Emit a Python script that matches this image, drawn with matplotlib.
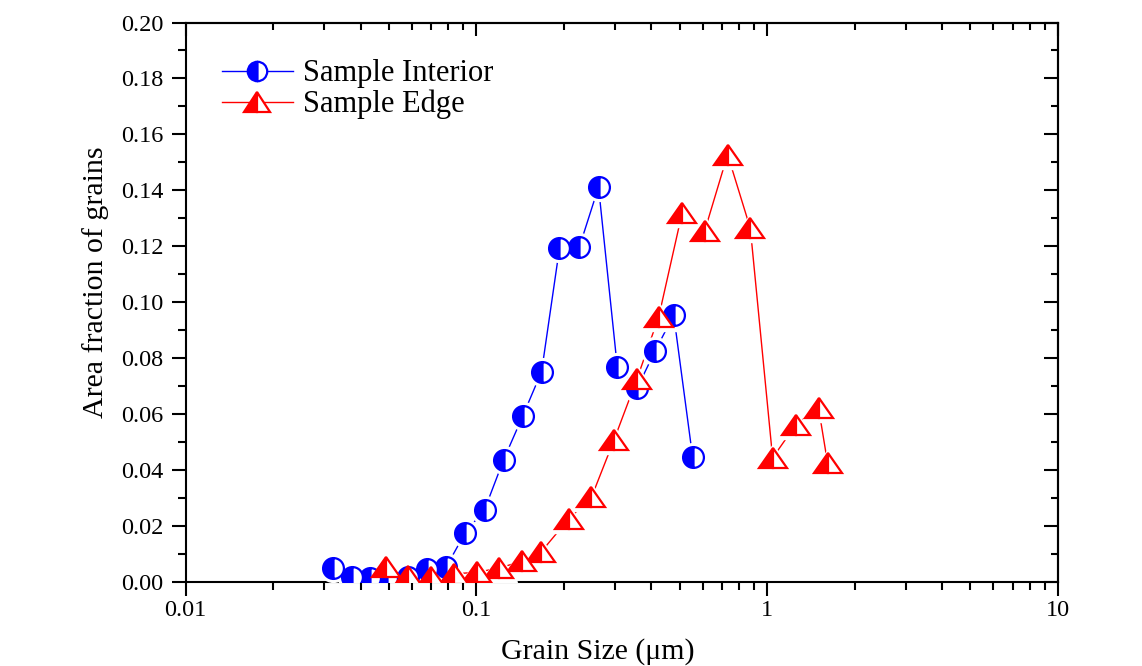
import matplotlib
matplotlib.use("Agg")
import matplotlib.pyplot as plt
from matplotlib.markers import MarkerStyle
from matplotlib.transforms import Affine2D
from matplotlib.ticker import FixedLocator, LogLocator, NullFormatter, FixedFormatter

# ---- data ----
interior_x = [0.0321, 0.0372, 0.0430, 0.0493, 0.0582, 0.0678, 0.0788, 0.0916, 0.1067,
              0.124, 0.1441, 0.1675, 0.193, 0.226, 0.263, 0.305, 0.357, 0.412, 0.477, 0.554]
interior_y = [0.0049, 0.0019, 0.0015, 0.0013, 0.0019, 0.0045, 0.0055, 0.0177, 0.0259,
              0.0437, 0.0592, 0.0752, 0.1193, 0.1198, 0.1412, 0.0770, 0.0693, 0.0827, 0.0954, 0.0447]

edge_x = [0.0488, 0.0583, 0.0700, 0.0835, 0.1004, 0.120, 0.1438, 0.167, 0.2074, 0.2487,
          0.2968, 0.356, 0.4236, 0.5096, 0.6095, 0.731, 0.875, 1.044, 1.256, 1.502, 1.613]
edge_y = [0.0055, 0.0021, 0.0018, 0.0029, 0.0035, 0.0050, 0.0075, 0.0108, 0.0225, 0.0303,
          0.0506, 0.0724, 0.0948, 0.1319, 0.1255, 0.1528, 0.1264, 0.0444, 0.0563, 0.0622, 0.0426]

x_ticks = [0.01, 0.1, 1, 10]
x_tick_labels = ["0.01", "0.1", "1", "10"]
y_ticks = [0.00, 0.02, 0.04, 0.06, 0.08, 0.10, 0.12, 0.14, 0.16, 0.18, 0.20]
y_tick_labels = ["%.2f" % v for v in y_ticks]

plt.rcParams['font.family'] = ['Liberation Serif', 'DejaVu Serif']

fig = plt.figure(figsize=(11.42, 6.66), dpi=100)
ax = fig.add_axes([0.1626, 0.1261, 0.9264 - 0.1626, 0.9662 - 0.1261])

blue = '#0000FF'
red = '#FF0000'

circ = MarkerStyle('o', fillstyle='left')
tri = MarkerStyle('^', fillstyle='left', transform=Affine2D().scale(1.3, 1.0))
tri_bg = MarkerStyle('^', transform=Affine2D().scale(1.3, 1.0))

# lines
ax.plot(interior_x, interior_y, '-', color=blue, lw=1.0, zorder=2)
ax.plot(edge_x, edge_y, '-', color=red, lw=1.0, zorder=2)
# white halos to create gaps near markers
ax.plot(interior_x, interior_y, linestyle='none', marker='o', ms=20, mfc='white', mec='white', zorder=3)
ax.plot(edge_x, edge_y, linestyle='none', marker=tri_bg, ms=20, mfc='white', mec='white', zorder=3)
# markers
ax.plot(interior_x, interior_y, linestyle='none', marker=circ, ms=15, mfc=blue,
        mfcalt='white', mec=blue, mew=1.6, zorder=4)
ax.plot(edge_x, edge_y, linestyle='none', marker=tri, ms=15, mfc=red,
        mfcalt='white', mec=red, mew=1.6, zorder=4)

# legend handles
h1, = ax.plot([], [], '-', color=blue, lw=1.0, marker=circ, ms=14, mfc=blue,
              mfcalt='white', mec=blue, mew=1.6)
h2, = ax.plot([], [], '-', color=red, lw=1.0, marker=tri, ms=14, mfc=red,
              mfcalt='white', mec=red, mew=1.6)
ax.legend([h1, h2], ["Sample Interior", "Sample Edge"], loc='upper left',
          bbox_to_anchor=(0.028, 0.956), frameon=False, fontsize=22,
          handlelength=2.3, handletextpad=0.33, labelspacing=0.05, borderaxespad=0)

ax.set_xscale('log')
ax.set_xlim(0.01, 10)
ax.set_ylim(0, 0.20)

ax.xaxis.set_major_locator(FixedLocator(x_ticks))
ax.xaxis.set_major_formatter(FixedFormatter(x_tick_labels))
ax.xaxis.set_minor_locator(LogLocator(base=10, subs=range(2, 10)))
ax.xaxis.set_minor_formatter(NullFormatter())
ax.yaxis.set_major_locator(FixedLocator(y_ticks))
ax.yaxis.set_major_formatter(FixedFormatter(y_tick_labels))
ax.yaxis.set_minor_locator(FixedLocator([0.01 + 0.02 * i for i in range(10)]))

ax.tick_params(which='major', direction='out', length=10, width=1.5, labelsize=17.5, pad=6)
ax.tick_params(which='minor', direction='out', length=5.5, width=1.5)
ax.tick_params(axis='x', pad=3)

for s in ax.spines.values():
    s.set_linewidth(1.5)

# inward ticks on top and right
secx = ax.secondary_xaxis('top')
secx.set_xscale('log')
secx.xaxis.set_major_locator(FixedLocator(x_ticks))
secx.xaxis.set_minor_locator(LogLocator(base=10, subs=range(2, 10)))
secx.xaxis.set_major_formatter(NullFormatter())
secx.xaxis.set_minor_formatter(NullFormatter())
secx.tick_params(which='major', direction='in', length=9, width=1.5)
secx.tick_params(which='minor', direction='in', length=5, width=1.5)
secx.spines['top'].set_linewidth(1.5)

secy = ax.secondary_yaxis('right')
secy.yaxis.set_major_locator(FixedLocator(y_ticks))
secy.yaxis.set_minor_locator(FixedLocator([0.01 + 0.02 * i for i in range(10)]))
secy.yaxis.set_major_formatter(NullFormatter())
secy.tick_params(which='major', direction='in', length=10, width=1.5)
secy.tick_params(which='minor', direction='in', length=5, width=1.5)
secy.spines['right'].set_linewidth(1.5)

ax.set_xlabel("Grain Size (\u03bcm)", fontsize=21.5)
ax.set_ylabel("Area fraction of grains", fontsize=21.5)
ax.xaxis.set_label_coords(0.4727, -0.1)
ax.yaxis.set_label_coords(-0.088, 0.536)

fig.savefig("out.png", dpi=100)
